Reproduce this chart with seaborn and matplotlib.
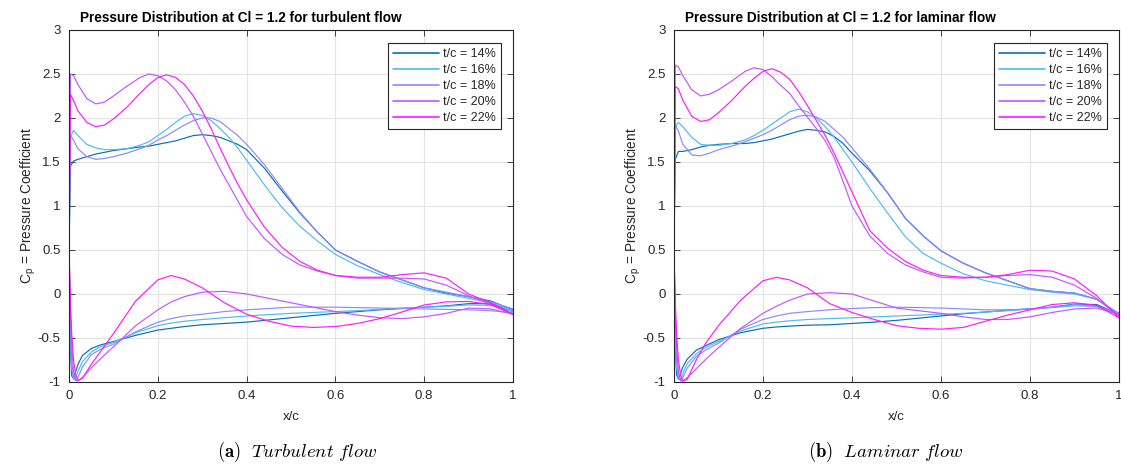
import numpy as np
import pandas as pd
import matplotlib
matplotlib.use("Agg")
import matplotlib.pyplot as plt
import seaborn as sns

# ---------------- data ----------------
series_labels = ["t/c = 14%", "t/c = 16%", "t/c = 18%", "t/c = 20%", "t/c = 22%"]
series_colors = ["#0a6eb4", "#4dbbef", "#8a8aff", "#c056ff", "#ff1aff"]

x_ticks = [0, 0.2, 0.4, 0.6, 0.8, 1.0]
x_tick_labels = ["0", "0.2", "0.4", "0.6", "0.8", "1"]
y_ticks = [-1, -0.5, 0, 0.5, 1, 1.5, 2, 2.5, 3]
y_tick_labels = ["-1", "-0.5", "0", "0.5", "1", "1.5", "2", "2.5", "3"]

titles = ["Pressure Distribution at Cl = 1.2 for turbulent flow",
          "Pressure Distribution at Cl = 1.2 for laminar flow"]
captions = [r"$\mathbf{(a)}\ \ \mathit{Turbulent\ flow}$",
            r"$\mathbf{(b)}\ \ \mathit{Laminar\ flow}$"]

# chordwise stations (upper and lower surface)
x_upper = [0.0, 0.003, 0.01, 0.02, 0.04, 0.06, 0.08, 0.1, 0.13, 0.16, 0.18, 0.2, 0.22, 0.24,
           0.26, 0.28, 0.3, 0.32, 0.34, 0.36, 0.38, 0.4, 0.44, 0.48, 0.52, 0.56, 0.6, 0.65,
           0.7, 0.75, 0.8, 0.85, 0.9, 0.95, 1.0]
x_lower = [0.0, 0.003, 0.006, 0.01, 0.015, 0.02, 0.03, 0.05, 0.07, 0.1, 0.15, 0.2, 0.23, 0.26,
           0.3, 0.35, 0.4, 0.45, 0.5, 0.55, 0.6, 0.65, 0.7, 0.75, 0.8, 0.85, 0.9, 0.95, 1.0]

# ---- turbulent flow ----
turb_up_14 = [0.5, 1.45, 1.51, 1.53, 1.56, 1.59, 1.61, 1.63, 1.65, 1.67, 1.68, 1.70, 1.72, 1.74,
              1.77, 1.80, 1.81, 1.80, 1.78, 1.74, 1.70, 1.64, 1.43, 1.17, 0.92, 0.70, 0.50, 0.37,
              0.25, 0.16, 0.07, 0.01, -0.03, -0.08, -0.18]
turb_up_16 = [0.5, 1.78, 1.86, 1.80, 1.70, 1.66, 1.64, 1.64, 1.65, 1.69, 1.73, 1.80, 1.87, 1.95,
              2.02, 2.05, 2.03, 1.97, 1.88, 1.78, 1.66, 1.52, 1.24, 0.98, 0.77, 0.60, 0.45, 0.32,
              0.22, 0.13, 0.05, 0.0, -0.05, -0.10, -0.19]
turb_up_18 = [0.5, 1.80, 1.75, 1.65, 1.56, 1.53, 1.54, 1.56, 1.60, 1.65, 1.69, 1.75, 1.80, 1.86,
              1.92, 1.97, 2.00, 2.00, 1.96, 1.88, 1.80, 1.70, 1.47, 1.20, 0.93, 0.70, 0.50, 0.37,
              0.25, 0.16, 0.07, 0.02, -0.03, -0.09, -0.17]
turb_up_20 = [0.5, 2.50, 2.48, 2.38, 2.22, 2.16, 2.18, 2.25, 2.36, 2.46, 2.50, 2.48, 2.42, 2.32,
              2.18, 2.02, 1.82, 1.62, 1.42, 1.24, 1.06, 0.88, 0.63, 0.45, 0.33, 0.26, 0.21, 0.18,
              0.18, 0.18, 0.17, 0.10, -0.02, -0.12, -0.23]
turb_up_22 = [0.5, 2.27, 2.20, 2.08, 1.95, 1.90, 1.92, 1.99, 2.12, 2.28, 2.38, 2.46, 2.49, 2.46,
              2.38, 2.25, 2.08, 1.88, 1.66, 1.45, 1.25, 1.07, 0.76, 0.53, 0.37, 0.27, 0.21, 0.19,
              0.19, 0.22, 0.24, 0.18, 0.0, -0.10, -0.23]

turb_lo_14 = [0.5, -0.6, -0.93, -0.96, -0.88, -0.80, -0.70, -0.62, -0.58, -0.54, -0.47, -0.41,
              -0.39, -0.37, -0.35, -0.335, -0.32, -0.295, -0.27, -0.245, -0.22, -0.20, -0.18,
              -0.165, -0.15, -0.135, -0.11, -0.11, -0.2]
turb_lo_16 = [0.5, -0.5, -0.85, -0.97, -0.95, -0.88, -0.77, -0.66, -0.60, -0.55, -0.44, -0.36,
              -0.33, -0.31, -0.29, -0.27, -0.25, -0.235, -0.22, -0.21, -0.20, -0.19, -0.175,
              -0.16, -0.15, -0.14, -0.125, -0.13, -0.2]
turb_lo_18 = [0.5, -0.4, -0.78, -0.95, -0.985, -0.95, -0.83, -0.69, -0.63, -0.57, -0.43, -0.32,
              -0.28, -0.25, -0.23, -0.20, -0.18, -0.165, -0.15, -0.15, -0.15, -0.155, -0.16,
              -0.165, -0.17, -0.175, -0.18, -0.19, -0.215]
turb_lo_20 = [0.5, -0.2, -0.6, -0.88, -0.98, -0.99, -0.95, -0.84, -0.74, -0.60, -0.36, -0.18,
              -0.09, -0.03, 0.02, 0.03, 0.0, -0.05, -0.10, -0.15, -0.20, -0.24, -0.27, -0.28,
              -0.26, -0.22, -0.16, -0.17, -0.23]
turb_lo_22 = [0.5, -0.1, -0.45, -0.75, -0.92, -0.98, -0.96, -0.80, -0.66, -0.45, -0.08, 0.16,
              0.21, 0.17, 0.07, -0.10, -0.23, -0.31, -0.365, -0.38, -0.37, -0.335, -0.28, -0.205,
              -0.125, -0.09, -0.085, -0.12, -0.23]

# ---- laminar flow ----
lam_up_14 = [0.5, 1.53, 1.62, 1.62, 1.64, 1.67, 1.69, 1.70, 1.71, 1.71, 1.72, 1.74, 1.76, 1.79,
             1.82, 1.85, 1.87, 1.86, 1.84, 1.79, 1.71, 1.60, 1.40, 1.15, 0.86, 0.66, 0.49, 0.35,
             0.24, 0.15, 0.06, 0.03, 0.01, -0.06, -0.23]
lam_up_16 = [0.5, 1.90, 1.95, 1.90, 1.78, 1.70, 1.69, 1.69, 1.71, 1.75, 1.80, 1.86, 1.93, 2.00,
             2.07, 2.10, 2.07, 2.00, 1.90, 1.78, 1.64, 1.50, 1.20, 0.92, 0.65, 0.46, 0.35, 0.23,
             0.15, 0.10, 0.05, 0.02, 0.0, -0.06, -0.23]
lam_up_18 = [0.5, 1.92, 1.85, 1.70, 1.58, 1.57, 1.60, 1.64, 1.68, 1.73, 1.77, 1.81, 1.86, 1.92,
             1.98, 2.02, 2.03, 2.01, 1.96, 1.87, 1.78, 1.66, 1.42, 1.15, 0.86, 0.66, 0.49, 0.35,
             0.24, 0.15, 0.06, 0.03, 0.01, -0.06, -0.22]
lam_up_20 = [0.5, 2.60, 2.58, 2.48, 2.32, 2.25, 2.27, 2.32, 2.42, 2.53, 2.57, 2.55, 2.47, 2.37,
             2.28, 2.14, 2.01, 1.88, 1.74, 1.55, 1.28, 1.00, 0.66, 0.46, 0.33, 0.25, 0.19, 0.18,
             0.19, 0.21, 0.22, 0.19, 0.10, -0.05, -0.25]
lam_up_22 = [0.5, 2.36, 2.33, 2.20, 2.02, 1.96, 1.98, 2.06, 2.20, 2.36, 2.45, 2.53, 2.56, 2.52,
             2.44, 2.30, 2.14, 1.97, 1.80, 1.60, 1.38, 1.16, 0.72, 0.52, 0.37, 0.27, 0.21, 0.19,
             0.19, 0.22, 0.27, 0.26, 0.17, -0.02, -0.27]

lam_lo_14 = [0.5, -0.6, -0.92, -0.97, -0.90, -0.83, -0.74, -0.64, -0.59, -0.52, -0.44, -0.39,
             -0.375, -0.365, -0.355, -0.35, -0.335, -0.32, -0.30, -0.275, -0.25, -0.225, -0.205,
             -0.185, -0.17, -0.15, -0.115, -0.12, -0.23]
lam_lo_16 = [0.5, -0.5, -0.85, -0.97, -0.97, -0.90, -0.79, -0.68, -0.61, -0.54, -0.42, -0.34,
             -0.32, -0.305, -0.29, -0.28, -0.27, -0.26, -0.25, -0.24, -0.23, -0.22, -0.205,
             -0.19, -0.17, -0.155, -0.135, -0.14, -0.23]
lam_lo_18 = [0.5, -0.4, -0.78, -0.95, -0.99, -0.95, -0.84, -0.71, -0.64, -0.56, -0.40, -0.29,
             -0.25, -0.22, -0.20, -0.18, -0.165, -0.155, -0.15, -0.155, -0.16, -0.17, -0.18,
             -0.18, -0.17, -0.15, -0.12, -0.14, -0.22]
lam_lo_20 = [0.5, -0.2, -0.6, -0.88, -0.98, -0.99, -0.95, -0.85, -0.75, -0.61, -0.39, -0.22,
             -0.14, -0.07, 0.0, 0.015, 0.0, -0.08, -0.16, -0.19, -0.22, -0.26, -0.29, -0.29,
             -0.26, -0.21, -0.17, -0.16, -0.23]
lam_lo_22 = [0.5, -0.1, -0.45, -0.75, -0.92, -0.99, -0.97, -0.75, -0.57, -0.36, -0.07, 0.15,
             0.19, 0.16, 0.07, -0.11, -0.21, -0.29, -0.36, -0.39, -0.40, -0.38, -0.31, -0.24,
             -0.18, -0.12, -0.10, -0.13, -0.27]

turb_upper = [turb_up_14, turb_up_16, turb_up_18, turb_up_20, turb_up_22]
turb_lower = [turb_lo_14, turb_lo_16, turb_lo_18, turb_lo_20, turb_lo_22]
lam_upper = [lam_up_14, lam_up_16, lam_up_18, lam_up_20, lam_up_22]
lam_lower = [lam_lo_14, lam_lo_16, lam_lo_18, lam_lo_20, lam_lo_22]


def build_frame(uppers, lowers):
    rows = []
    for lab, up, lo in zip(series_labels, uppers, lowers):
        xs = list(x_upper[::-1]) + list(x_lower)
        cps = list(up[::-1]) + list(lo)
        for i, (xv, cv) in enumerate(zip(xs, cps)):
            rows.append({"series": lab, "order": i, "x": xv, "cp": cv})
    return pd.DataFrame(rows)


frames = [build_frame(turb_upper, turb_lower), build_frame(lam_upper, lam_lower)]

# ---------------- style ----------------
sns.set_theme(style="white")
plt.rcParams["font.family"] = ["Liberation Sans", "DejaVu Sans"]
plt.rcParams["axes.unicode_minus"] = False
plt.rcParams["mathtext.fontset"] = "cm"

fig = plt.figure(figsize=(11.21, 4.66), dpi=100)
axes_pos = [[0.0616, 0.1803, 0.396, 0.7554], [0.6012, 0.1803, 0.397, 0.7554]]
caption_x = [0.265, 0.790]
palette = dict(zip(series_labels, series_colors))
dark = "#262626"

for k in range(2):
    ax = fig.add_axes(axes_pos[k])
    sns.lineplot(data=frames[k], x="x", y="cp", hue="series", hue_order=series_labels,
                 palette=palette, sort=False, estimator=None, units="series",
                 linewidth=0.85, ax=ax)
    ax.set_xlim(0, 1)
    ax.set_ylim(-1, 3)
    ax.set_xticks(x_ticks)
    ax.set_xticklabels(x_tick_labels)
    ax.set_yticks(y_ticks)
    ax.set_yticklabels(y_tick_labels)
    ax.grid(True, color="#e3e3e3", linewidth=0.8)
    ax.set_axisbelow(True)
    for sp in ax.spines.values():
        sp.set_visible(True)
        sp.set_color(dark)
        sp.set_linewidth(0.8)
    ax.tick_params(direction="in", length=4, width=0.6, colors=dark, labelsize=9.5,
                   top=True, right=True, bottom=True, left=True, pad=6)
    ax.set_xlabel("x/c", fontsize=9.5, color=dark, labelpad=6)
    ax.set_ylabel(r"C$_\mathregular{p}$ = Pressure Coefficient", fontsize=9.8, color=dark,
                  labelpad=0)
    ax.text(0.025, 1.015, titles[k], transform=ax.transAxes, ha="left", va="bottom",
            fontsize=9.8, fontweight="bold", color="black")
    handles, labels = ax.get_legend_handles_labels()
    leg = ax.legend(handles, labels, loc="upper right", bbox_to_anchor=(0.973, 0.963),
                    frameon=True, fancybox=False, edgecolor=dark, framealpha=1,
                    fontsize=9, handlelength=3.7, handletextpad=0.3, labelspacing=0.32,
                    borderpad=0.4, borderaxespad=0.0)
    leg.get_frame().set_linewidth(0.8)
    for line in leg.get_lines():
        line.set_linewidth(1.2)
    fig.text(caption_x[k], 0.030, captions[k], ha="center", va="center", fontsize=13.5,
             color="black")

fig.savefig("out.png", dpi=100)
